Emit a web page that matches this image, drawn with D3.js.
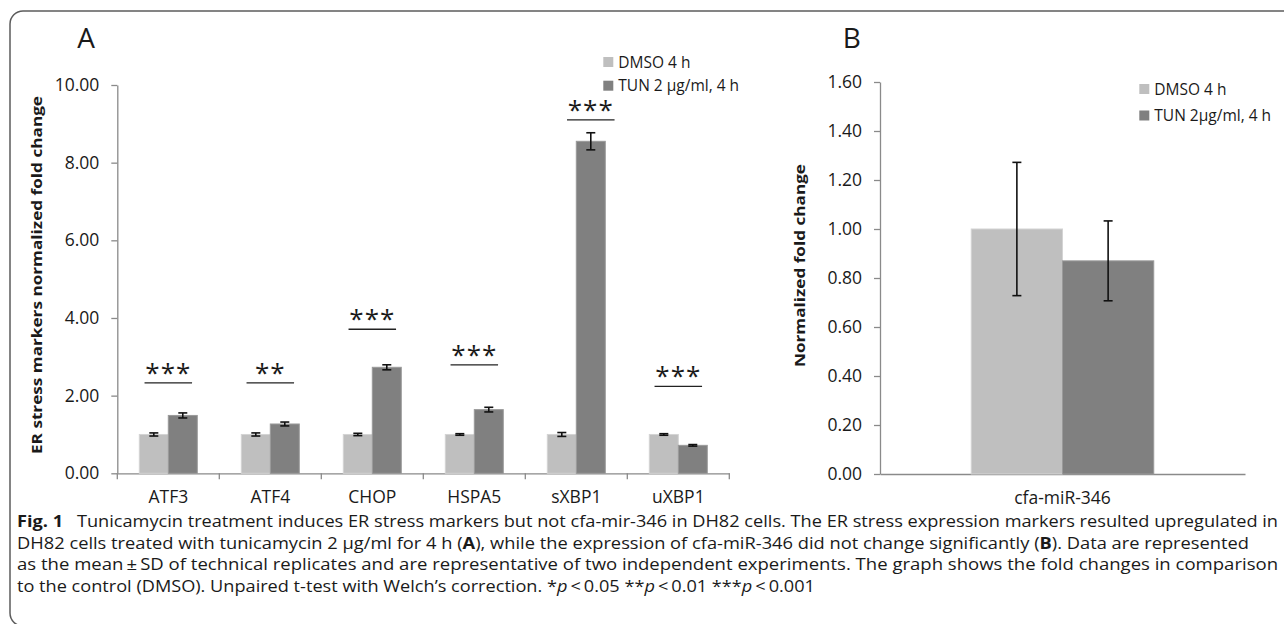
<!DOCTYPE html>
<html>
<head>
<meta charset="utf-8">
<script src="https://cdn.jsdelivr.net/npm/d3@7"></script>
<style>
  body { margin: 0; background: #fff; }
  text { font-family: "Open Sans", sans-serif; fill: #1a1a1a; }
  .axis path, .axis line { stroke: #8a8a8a; stroke-width: 1.3; }
  .axis text { font-size: 17.5px; fill: #1a1a1a; }
</style>
</head>
<body>
<script>
"use strict";

// panel A data
var markers = ["ATF3", "ATF4", "CHOP", "HSPA5", "sXBP1", "uXBP1"];
var groups = ["DMSO 4 h", "TUN 2 \u00b5g/ml, 4 h"];
var dmso = [1.00, 1.00, 1.00, 1.00, 1.00, 1.00];
var dmsoSd = [0.04, 0.04, 0.03, 0.02, 0.05, 0.02];
var tun = [1.49, 1.27, 2.73, 1.64, 8.55, 0.72];
var tunSd = [0.065, 0.05, 0.065, 0.06, 0.22, 0.02];
var yTicksA = [0, 2, 4, 6, 8, 10];

// significance marks for panel A (level in fold change units)
var sigLabels = ["***", "**", "***", "***", "***", "***"];
var sigLevels = [2.33, 2.33, 3.71, 2.79, 9.10, 2.24];
var sigShift = [0, 0, 0, 0, 0.5, 0];

// panel B data
var mirs = ["cfa-miR-346"];
var groupsB = ["DMSO 4 h", "TUN 2\u00b5g/ml, 4 h"];
var dmsoB = [1.00];
var dmsoBSd = [0.272];
var tunB = [0.87];
var tunBSd = [0.163];
var yTicksB = [0, 0.2, 0.4, 0.6, 0.8, 1.0, 1.2, 1.4, 1.6];

var colors = ["#bfbfbf", "#808080"];

var W = 1284, H = 624;
var svg = d3.select("body").append("svg")
    .attr("width", W)
    .attr("height", H);

// frame round the figure
svg.append("rect")
    .attr("x", 10).attr("y", 11)
    .attr("width", 1320).attr("height", 615)
    .attr("rx", 13)
    .attr("fill", "none")
    .attr("stroke", "#5c5c5c")
    .attr("stroke-width", 1.5);

function drawPanel(opt) {
  var g = svg.append("g");
  var x0 = d3.scaleBand().domain(opt.cats).range([opt.left, opt.right]);
  var x1 = d3.scaleBand().domain([0, 1]).range([0, x0.bandwidth()]).paddingOuter(opt.pad);
  var y = d3.scaleLinear().domain([0, opt.ymax]).range([opt.bottom, opt.top]);

  // y axis
  g.append("g")
      .attr("class", "axis")
      .attr("transform", "translate(" + opt.left + ",0)")
      .call(d3.axisLeft(y).tickValues(opt.yticks).tickFormat(d3.format(".2f"))
        .tickSize(6).tickSizeOuter(0).tickPadding(12));

  // x axis
  var gx = g.append("g")
      .attr("class", "axis")
      .attr("transform", "translate(0," + opt.bottom + ")")
      .call(d3.axisBottom(x0).tickSize(0).tickSizeOuter(0).tickPadding(24));
  gx.selectAll("text").attr("dy", "0.35em");
  if (opt.boundaryTicks) {
    var bounds = opt.cats.map(function(c) { return x0(c); }).concat([opt.right]);
    gx.selectAll(".bound").data(bounds).enter().append("line")
        .attr("class", "bound")
        .attr("x1", function(d) { return d; }).attr("x2", function(d) { return d; })
        .attr("y1", 0).attr("y2", 6);
  }

  var rows = opt.cats.map(function(c, i) {
    return [
      {cat: c, s: 0, v: opt.a[i], sd: opt.aSd[i]},
      {cat: c, s: 1, v: opt.b[i], sd: opt.bSd[i]}
    ];
  });
  var flat = [].concat.apply([], rows);

  g.selectAll(".bar").data(flat).enter().append("rect")
      .attr("class", "bar")
      .attr("x", function(d) { return x0(d.cat) + x1(d.s); })
      .attr("y", function(d) { return y(d.v); })
      .attr("width", x1.bandwidth())
      .attr("height", function(d) { return y(0) - y(d.v); })
      .attr("fill", function(d) { return colors[d.s]; })
      .attr("stroke", function(d) { return d.s ? "#9a9a9a" : "#d4d4d4"; })
      .attr("stroke-width", 1);

  // error bars
  var cap = 4.5;
  var eb = g.selectAll(".err").data(flat).enter().append("g")
      .attr("class", "err")
      .attr("stroke", "#111")
      .attr("stroke-width", 1.6);
  eb.append("line")
      .attr("x1", function(d) { return x0(d.cat) + x1(d.s) + x1.bandwidth() / 2; })
      .attr("x2", function(d) { return x0(d.cat) + x1(d.s) + x1.bandwidth() / 2; })
      .attr("y1", function(d) { return y(d.v - d.sd); })
      .attr("y2", function(d) { return y(d.v + d.sd); });
  [-1, 1].forEach(function(sgn) {
    eb.append("line")
        .attr("x1", function(d) { return x0(d.cat) + x1(d.s) + x1.bandwidth() / 2 - cap; })
        .attr("x2", function(d) { return x0(d.cat) + x1(d.s) + x1.bandwidth() / 2 + cap; })
        .attr("y1", function(d) { return y(d.v + sgn * d.sd); })
        .attr("y2", function(d) { return y(d.v + sgn * d.sd); });
  });

  // legend
  var lg = g.append("g").attr("transform", "translate(" + opt.legend[0] + "," + opt.legend[1] + ")");
  opt.groups.forEach(function(name, i) {
    var row = lg.append("g").attr("transform", "translate(0," + i * opt.legendGap + ")");
    row.append("rect").attr("x", 0).attr("y", -10.5).attr("width", 10).attr("height", 10)
        .attr("fill", colors[i]);
    row.append("text").attr("x", 15).attr("y", 0)
        .attr("font-size", 15.5).text(name);
  });

  // y title
  g.append("text")
      .attr("transform", "translate(" + opt.titleX + "," + opt.titleY + ") rotate(-90)")
      .attr("font-size", 15)
      .attr("font-weight", "bold")
      .attr("textLength", opt.titleLen)
      .attr("lengthAdjust", "spacingAndGlyphs")
      .text(opt.title);

  // panel letter
  g.append("text")
      .attr("x", opt.letterX).attr("y", 48)
      .attr("text-anchor", "middle")
      .attr("font-size", 28)
      .text(opt.letter);

  return {g: g, x0: x0, x1: x1, y: y};
}

var A = drawPanel({
  cats: markers, a: dmso, aSd: dmsoSd, b: tun, bSd: tunSd,
  left: 117.3, right: 729.3, top: 85, bottom: 473.3, ymax: 10, yticks: yTicksA,
  pad: 0.76, boundaryTicks: true, groups: groups,
  legend: [603.3, 67.5], legendGap: 23.7,
  title: "ER stress markers normalized fold change", titleX: 42, titleY: 454, titleLen: 358,
  letter: "A", letterX: 86
});

// significance bars and stars
var bw = A.x1.bandwidth();
var sig = A.g.selectAll(".sig").data(markers).enter().append("g").attr("class", "sig")
    .attr("transform", function(d, i) {
      var cx = A.x0(d) + A.x0.bandwidth() / 2 + sigShift[i] * bw;
      return "translate(" + cx + "," + A.y(sigLevels[i]) + ")";
    });
sig.append("line")
    .attr("x1", -bw * 0.82).attr("x2", bw * 0.82)
    .attr("y1", 0).attr("y2", 0)
    .attr("stroke", "#222").attr("stroke-width", 1.3);
sig.append("text")
    .attr("text-anchor", "middle")
    .attr("y", -1)
    .attr("font-family", "Liberation Sans, sans-serif")
    .attr("font-size", 26)
    .attr("letter-spacing", 1)
    .text(function(d, i) { return sigLabels[i]; });

drawPanel({
  cats: mirs, a: dmsoB, aSd: dmsoBSd, b: tunB, bSd: tunBSd,
  left: 880, right: 1245, top: 82, bottom: 474, ymax: 1.6, yticks: yTicksB,
  pad: 1.0, boundaryTicks: false, groups: groupsB,
  legend: [1139.3, 94.5], legendGap: 26.5,
  title: "Normalized fold change", titleX: 805, titleY: 367, titleLen: 203,
  letter: "B", letterX: 851.7
});

// caption
var caption = svg.append("g").attr("font-size", 16.5);
var capLines = [
  {y: 527, len: 1261, parts: [["Fig. 1", "b"], ["\u2002 Tunicamycin treatment induces ER stress markers but not cfa-mir-346 in DH82 cells. The ER stress expression markers resulted upregulated in", ""]]},
  {y: 548.5, len: 1232, parts: [["DH82 cells treated with tunicamycin 2 \u00b5g/ml for 4 h (", ""], ["A", "b"], ["), while the expression of cfa-miR-346 did not change significantly (", ""], ["B", "b"], ["). Data are represented", ""]]},
  {y: 570, len: 1261, parts: [["as the mean\u2009\u00b1\u2009SD of technical replicates and are representative of two independent experiments. The graph shows the fold changes in comparison", ""]]},
  {y: 591.5, len: 798, parts: [["to the control (DMSO). Unpaired t-test with Welch\u2019s correction. *", ""], ["p", "i"], ["\u2009<\u20090.05 **", ""], ["p", "i"], ["\u2009<\u20090.01 ***", ""], ["p", "i"], ["\u2009<\u20090.001", ""]]}
];
capLines.forEach(function(l) {
  var t = caption.append("text")
      .attr("x", 17).attr("y", l.y)
      .attr("textLength", l.len)
      .attr("lengthAdjust", "spacingAndGlyphs");
  l.parts.forEach(function(p) {
    t.append("tspan")
        .attr("font-weight", p[1] === "b" ? "bold" : null)
        .attr("font-style", p[1] === "i" ? "italic" : null)
        .text(p[0]);
  });
});
</script>
</body>
</html>
